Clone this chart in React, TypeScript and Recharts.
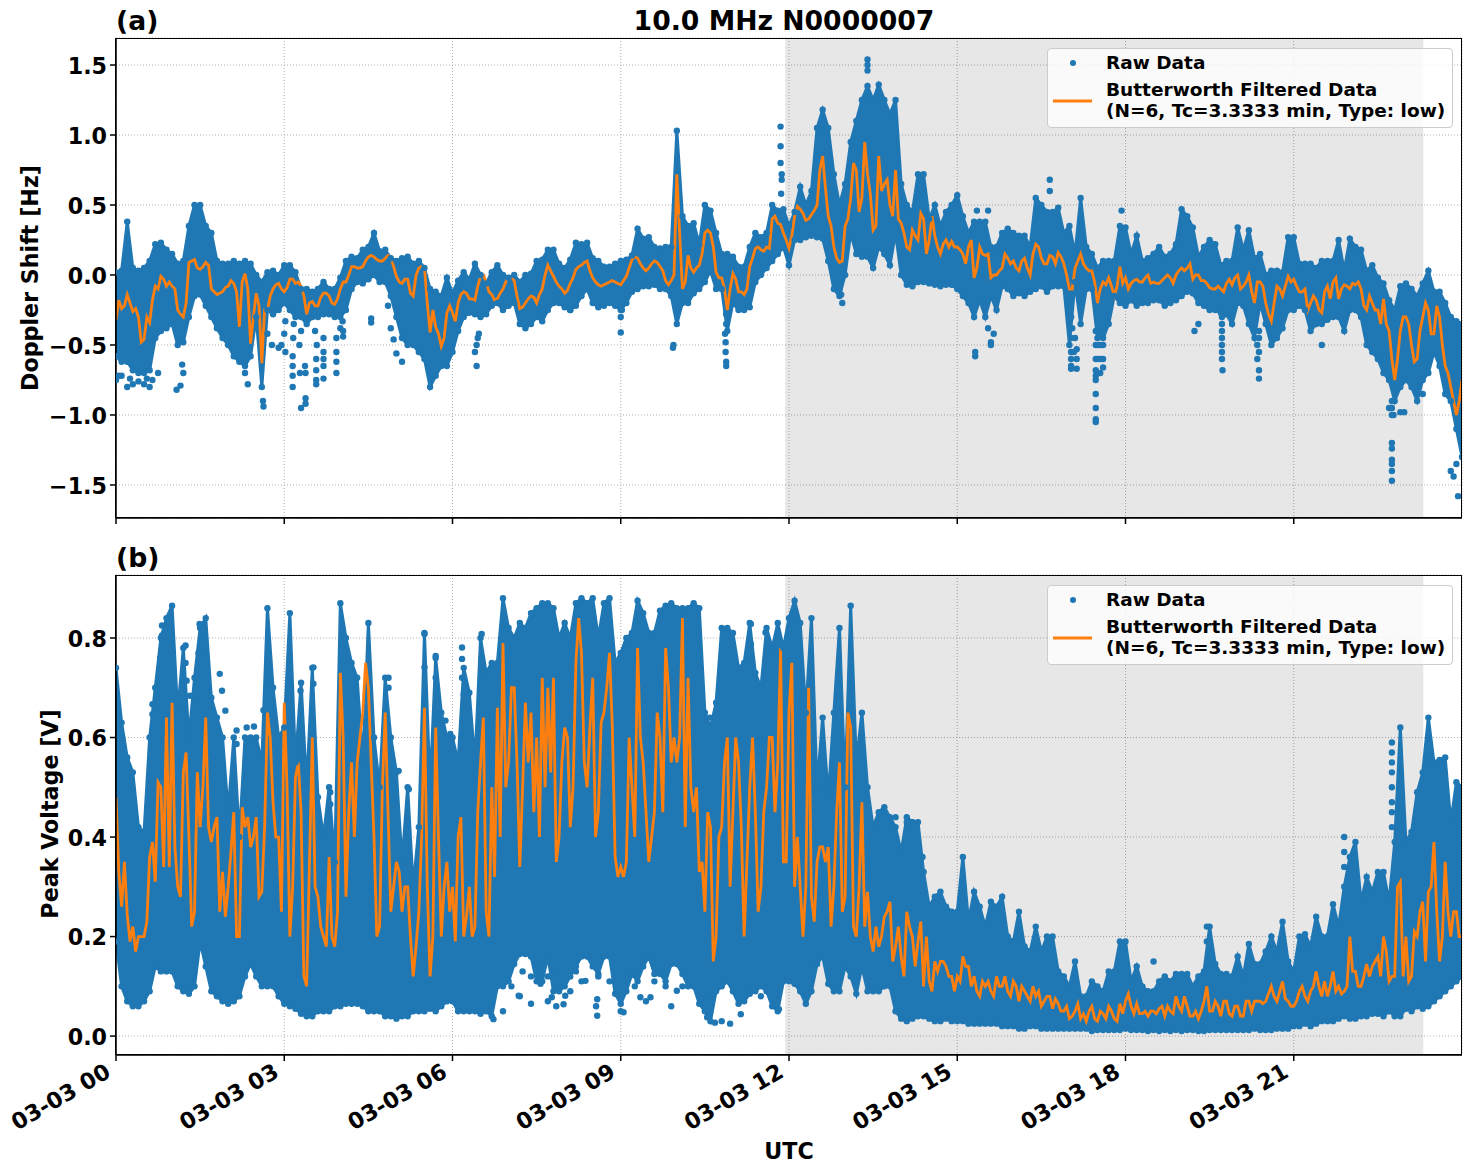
import React from "react";
import {
  Area,
  CartesianGrid,
  ComposedChart,
  Line,
  ReferenceArea,
  Scatter,
  XAxis,
  YAxis,
} from "recharts";

const dopplerHigh = [
  0.02, 0.03, 0.38, 0.05, 0.03, 0.05, 0.1, 0.22, 0.23, 0.18,
  0.15, 0.08, 0.1, 0.35, 0.5, 0.5, 0.35, 0.3, 0.1, 0.08,
  0.08, 0.1, 0.08, 0.1, 0.08, 0.0, -0.05, 0.02, 0.03, 0.0,
  0.07, 0.07, 0.02, -0.1, -0.1, -0.12, -0.1, -0.05, -0.1, -0.1,
  -0.02, 0.1, 0.13, 0.12, 0.18, 0.2, 0.3, 0.17, 0.18, 0.12,
  0.1, 0.12, 0.13, 0.08, 0.1, 0.05, -0.1, -0.12, -0.15, -0.02,
  -0.13, -0.04, 0.02, -0.03, 0.08, 0.0, -0.06, 0.02, 0.07, 0.0,
  -0.02, 0.0, -0.05, 0.0, 0.01, 0.1, 0.11, 0.18, 0.18, 0.08,
  0.05, 0.11, 0.23, 0.22, 0.23, 0.12, 0.1, 0.06, 0.06, 0.08,
  0.1, 0.11, 0.14, 0.33, 0.26, 0.27, 0.2, 0.19, 0.2, 0.2,
  1.03, 0.42, 0.35, 0.37, 0.22, 0.5, 0.46, 0.3, 0.15, 0.15,
  0.13, 0.06, 0.06, 0.2, 0.3, 0.27, 0.3, 0.5, 0.46, 0.47,
  0.35, 0.45, 0.63, 0.5, 0.6, 1.05, 1.18, 1.05, 0.72, 0.5,
  0.65, 0.95, 1.1, 1.25, 1.35, 1.25, 1.36, 1.25, 1.15, 1.25,
  0.65, 0.5, 0.45, 0.72, 0.72, 0.4, 0.5, 0.35, 0.45, 0.5,
  0.57, 0.42, 0.3, 0.38, 0.38, 0.38, 0.2, 0.2, 0.3, 0.33,
  0.3, 0.28, 0.28, 0.2, 0.55, 0.5, 0.45, 0.45, 0.48, 0.3,
  0.35, 0.15, 0.55, 0.2, 0.15, 0.05, 0.1, 0.1, 0.1, 0.35,
  0.34, 0.15, 0.28, 0.1, 0.12, 0.15, 0.2, 0.13, 0.15, 0.22,
  0.47, 0.42, 0.34, 0.13, 0.2, 0.25, 0.22, 0.07, 0.1, 0.1,
  0.34, 0.18, 0.32, 0.12, 0.15, 0.0, 0.03, 0.03, 0.02, 0.27,
  0.27, 0.08, 0.08, 0.08, 0.05, 0.1, 0.1, 0.1, 0.25, 0.03,
  0.26, 0.2, 0.18, 0.03, 0.07, -0.02, -0.06, -0.18, -0.25, -0.08,
  -0.06, -0.1, -0.15, -0.06, 0.03, -0.12, -0.12, -0.2, -0.3, -0.33, -0.35,
];

const dopplerLow = [
  -0.58, -0.62, -0.62, -0.68, -0.7, -0.7, -0.68, -0.45, -0.4, -0.38,
  -0.35, -0.5, -0.48, -0.3, -0.15, -0.14, -0.22, -0.3, -0.38, -0.45,
  -0.5, -0.58, -0.62, -0.65, -0.58, -0.3, -0.8, -0.25, -0.28, -0.25,
  -0.2, -0.25, -0.3, -0.3, -0.35, -0.3, -0.3, -0.28, -0.28, -0.3,
  -0.3, -0.25, -0.1, -0.05, -0.06, -0.03, 0.0, -0.05, -0.05, -0.15,
  -0.3, -0.45, -0.5, -0.5, -0.55, -0.6, -0.8, -0.72, -0.65, -0.65,
  -0.55, -0.4, -0.3, -0.27, -0.28, -0.3, -0.28, -0.22, -0.2, -0.25,
  -0.22, -0.2, -0.35, -0.38, -0.35, -0.3, -0.33, -0.25, -0.2, -0.2,
  -0.23, -0.25, -0.22, -0.15, -0.1, -0.2, -0.23, -0.22, -0.2, -0.22,
  -0.25, -0.2, -0.12, -0.1, -0.08, -0.08, -0.07, -0.1, -0.1, -0.15,
  -0.35, -0.2, -0.2, -0.13, -0.1, -0.05, 0.03, -0.1, -0.1, -0.4,
  -0.2, -0.25, -0.25, -0.23, -0.05, 0.0, 0.05, 0.1, 0.15, 0.2,
  0.07, 0.25, 0.25, 0.27, 0.28, 0.27, 0.26, 0.1, -0.1, -0.15,
  0.0, 0.3, 0.15, 0.13, 0.13, 0.05, 0.2, 0.15, 0.07, 0.3,
  0.0, -0.07, -0.08, -0.05, -0.05, -0.06, -0.07, -0.08, -0.07, -0.07,
  -0.1, -0.15, -0.2, -0.3, -0.18, -0.3, -0.15, -0.25, -0.08, -0.1,
  -0.15, -0.13, -0.15, -0.12, -0.1, -0.08, -0.12, -0.08, -0.08, -0.08,
  -0.5, -0.05, -0.35, -0.1, -0.1, -0.45, -0.45, -0.35, -0.15, -0.2,
  -0.22, -0.18, -0.22, -0.2, -0.2, -0.18, -0.18, -0.22, -0.2, -0.18,
  -0.15, -0.12, -0.13, -0.2, -0.22, -0.25, -0.25, -0.27, -0.28, -0.35,
  -0.2, -0.22, -0.35, -0.45, -0.2, -0.35, -0.5, -0.45, -0.38, -0.25,
  -0.25, -0.22, -0.25, -0.4, -0.35, -0.35, -0.32, -0.3, -0.3, -0.4,
  -0.25, -0.25, -0.3, -0.5, -0.55, -0.6, -0.7, -0.75, -0.9, -0.8,
  -0.75, -0.8, -0.9, -0.75, -0.7, -0.55, -0.65, -0.85, -0.9, -1.1, -1.3,
];

const dopplerFiltered = [
  -0.32, -0.24, -0.14, -0.26, -0.3, -0.46, -0.34, -0.08, -0.01, -0.08,
  -0.08, -0.25, -0.3, 0.09, 0.11, 0.04, 0.09, -0.1, -0.14, -0.12,
  -0.08, -0.06, -0.37, 0.01, -0.49, -0.13, -0.63, -0.25, -0.1, -0.06,
  -0.12, -0.03, -0.06, -0.08, -0.28, -0.19, -0.22, -0.13, -0.15, -0.21,
  -0.1, -0.05, 0.06, 0.05, 0.06, 0.13, 0.13, 0.1, 0.12, 0.13,
  -0.01, -0.06, -0.03, -0.15, 0.05, 0.05, -0.41, -0.37, -0.51, -0.27,
  -0.27, -0.2, -0.12, -0.17, -0.18, -0.01, -0.05, -0.14, -0.17, -0.1,
  -0.01, -0.04, -0.24, -0.2, -0.15, -0.2, -0.1, 0.07, -0.01, -0.08,
  -0.13, -0.06, 0.04, 0.07, 0.1, -0.02, -0.07, -0.07, -0.05, -0.05,
  -0.07, -0.01, 0.11, 0.12, 0.05, 0.05, 0.1, 0.06, -0.04, -0.04,
  0.72, -0.1, 0.14, 0.02, 0.07, 0.3, 0.3, 0.02, -0.02, -0.25,
  0.01, -0.12, -0.14, 0.06, 0.19, 0.18, 0.2, 0.4, 0.37, 0.3,
  0.19, 0.42, 0.47, 0.39, 0.43, 0.5, 0.85, 0.42, 0.2, 0.09,
  0.35, 0.55, 0.75, 0.55, 0.72, 0.32, 0.85, 0.65, 0.5, 0.75,
  0.37, 0.2, 0.32, 0.25, 0.4, 0.25, 0.28, 0.15, 0.25, 0.24,
  0.2, 0.15, 0.2, -0.02, 0.2, 0.14, -0.02, 0.0, 0.05, 0.12,
  0.1, 0.03, 0.12, 0.0, 0.22, 0.12, 0.08, 0.13, 0.16, 0.08,
  -0.1, 0.05, 0.15, 0.05, 0.03, -0.2, -0.05, -0.02, -0.15, 0.06,
  -0.02, -0.06, -0.03, -0.05, 0.0, -0.05, -0.06, -0.02, -0.02, 0.0,
  0.05, 0.05, -0.03, 0.0, -0.04, -0.09, -0.1, -0.1, -0.06, -0.07,
  0.0, -0.08, 0.0, -0.2, -0.05, -0.2, -0.33, -0.08, -0.15, -0.01,
  -0.03, -0.12, -0.1, -0.2, -0.18, -0.27, -0.08, -0.05, -0.17, -0.07,
  -0.1, -0.07, -0.1, -0.25, -0.2, -0.25, -0.17, -0.4, -0.75, -0.4,
  -0.3, -0.5, -0.6, -0.3, -0.25, -0.42, -0.3, -0.65, -0.8, -1.0, -0.75,
];

// the filtered line three minutes after each value above
const dopplerFilteredBetween = [
  -0.18, -0.22, -0.2, -0.24, -0.48, -0.3, -0.18, -0.1, -0.03, -0.05,
  -0.1, -0.28, -0.2, 0.1, 0.05, 0.06, 0.07, -0.12, -0.13, -0.09,
  -0.04, -0.12, -0.05, -0.1, -0.3, -0.22, -0.25, -0.15, -0.07, -0.1,
  -0.09, -0.03, -0.05, -0.15, -0.2, -0.22, -0.16, -0.13, -0.2, -0.17,
  -0.05, 0.0, 0.06, 0.05, 0.1, 0.14, 0.11, 0.1, 0.14, 0.06,
  -0.05, -0.03, -0.13, 0.0, 0.06, -0.2, -0.25, -0.42, -0.45, -0.22,
  -0.33, -0.14, -0.13, -0.17, -0.08, 0.0, -0.12, -0.18, -0.13, -0.05,
  -0.02, -0.15, -0.23, -0.17, -0.16, -0.14, 0.0, 0.03, -0.05, -0.1,
  -0.11, -0.02, 0.06, 0.09, 0.03, -0.05, -0.08, -0.06, -0.04, -0.06,
  -0.04, 0.05, 0.13, 0.08, 0.03, 0.08, 0.09, 0.03, -0.07, 0.0,
  0.3, -0.05, 0.05, 0.05, 0.15, 0.32, 0.2, -0.02, -0.1, -0.1,
  -0.03, -0.12, -0.1, 0.12, 0.2, 0.17, 0.19, 0.42, 0.36, 0.25,
  0.28, 0.49, 0.44, 0.4, 0.46, 0.75, 0.62, 0.35, 0.12, 0.1,
  0.4, 0.8, 0.45, 0.95, 0.58, 0.35, 0.6, 0.68, 0.42, 0.4,
  0.3, 0.18, 0.28, 0.44, 0.15, 0.42, 0.2, 0.22, 0.2, 0.2,
  0.18, 0.08, 0.25, 0.05, 0.15, 0.15, 0.0, 0.03, 0.15, 0.08,
  0.05, 0.1, 0.05, 0.15, 0.2, 0.08, 0.14, 0.08, 0.13, 0.0,
  -0.1, 0.1, 0.08, 0.03, -0.05, -0.1, -0.07, -0.08, -0.08, -0.06,
  -0.1, -0.04, -0.05, -0.02, -0.06, -0.06, -0.04, 0.0, -0.06, 0.03,
  0.03, 0.08, 0.0, -0.04, -0.06, -0.1, -0.08, -0.12, -0.03, -0.02,
  -0.1, -0.05, -0.12, -0.05, -0.08, -0.28, -0.2, -0.1, -0.08, -0.05,
  -0.08, -0.12, -0.25, -0.15, -0.25, -0.12, -0.17, -0.02, -0.1, -0.08,
  -0.06, -0.05, -0.22, -0.15, -0.25, -0.35, -0.35, -0.6, -0.6, -0.3,
  -0.35, -0.62, -0.4, -0.2, -0.42, -0.22, -0.5, -0.7, -0.9, -0.9,
];

const dopplerStrayTimes = [
  0, 0.05, 0.2, 0.3, 0.6, 0.65, 1.08, 1.15, 1.2, 1.18, 2.35, 2.3, 2.62, 2.63,
  2.78, 2.7, 2.9, 2.95, 3.02, 3.0, 3.02, 3.15, 3.15, 3.15, 3.15, 3.16, 3.17,
  3.3, 3.28, 3.27, 3.3, 3.38, 3.38, 3.37, 3.38, 3.57, 3.57, 3.57, 3.57, 3.58, 3.55,
  3.7, 3.7, 3.7, 3.7, 3.7, 3.93, 3.93, 3.93, 3.93, 4.0, 4.05, 4.05, 4.04,
  4.55, 4.55, 4.85, 4.9, 4.95, 5.0, 5.1, 6.43, 6.4, 6.45, 6.47, 6.43, 8.1, 9.0, 9.0, 9.02,
  9.93, 9.94, 10.88, 10.88, 10.87, 10.87, 10.86,
  11.85, 11.85, 11.85, 11.87, 11.87, 11.86, 12.93, 12.9, 12.95,
  13.4, 13.4, 13.4, 15.32, 15.32, 15.55, 15.6, 15.6, 15.65, 15.35, 15.55, 16.65, 16.65,
  17.03, 17.03, 17.03, 17.03, 17.13, 17.13, 17.13, 17.47, 17.47, 17.47, 17.47, 17.47,
  17.6, 17.6, 17.55, 17.55, 17.93, 19.72, 19.72, 19.73, 19.72, 19.23, 19.3,
  20.38, 20.38, 20.35, 20.35, 21.5, 22.75, 22.75, 22.75, 22.75, 22.75, 22.75, 22.75,
  22.97, 22.9, 23.93, 23.8, 23.85, 23.9, 23.4,
  0.1, 0.25, 0.4, 0.5, 0.55, 0.75, 17.03, 17.05, 17.03, 17.47, 17.47, 17.47, 17.47, 17.47,
  17.6, 17.6, 17.55, 22.75, 22.75, 22.7, 19.72, 19.72, 19.72, 19.72, 20.38, 20.38, 20.38,
  10.88, 10.88, 17.08, 17.1, 17.5, 17.52, 22.72, 22.78, 23.2, 23.3,
];

const dopplerStrayValues = [
  -0.75, -0.72, -0.8, -0.78, -0.8, -0.75, -0.82, -0.79, -0.7, -0.64, -0.78, -0.7, -0.9, -0.94,
  -0.5, -0.42, -0.52, -0.5, -0.55, -0.42, -0.33, -0.65, -0.72, -0.8, -0.58, -0.45, -0.35,
  -0.95, -0.7, -0.5, -0.4, -0.92, -0.88, -0.65, -0.7, -0.6, -0.68, -0.75, -0.78, -0.5, -0.4,
  -0.55, -0.6, -0.65, -0.74, -0.45, -0.55, -0.62, -0.7, -0.45, -0.38, -0.4, -0.44, -0.33,
  -0.31, -0.34, -0.22, -0.38, -0.46, -0.56, -0.62, -0.5, -0.55, -0.45, -0.42, -0.65, -0.25, -0.41, -0.3, -0.25,
  -0.52, -0.5, -0.65, -0.62, -0.55, -0.48, -0.42,
  1.06, 0.92, 0.8, 0.72, 0.68, 0.58, -0.14, -0.1, -0.2,
  1.54, 1.5, 1.46, -0.55, -0.58, -0.38, -0.48, -0.5, -0.42, 0.46, 0.46, 0.68, 0.6,
  -0.55, -0.6, -0.67, -0.65, -0.53, -0.6, -0.67, -0.75, -0.85, -0.95, -1.05, -1.03,
  -0.6, -0.66, -0.7, -0.6, 0.46, -0.55, -0.6, -0.68, -0.45, -0.4, -0.35,
  -0.68, -0.74, -0.6, -0.5, -0.5, -1.0, -1.2, -1.24, -1.32, -1.35, -1.4, -1.47,
  -0.98, -0.98, -1.58, -1.4, -1.44, -1.35, -0.6,
  -0.72, -0.74, -0.76, -0.78, -0.74, -0.7, -0.45, -0.38, -0.3, -0.4, -0.5, -0.6, -0.68, -0.72,
  -0.5, -0.42, -0.5, -0.9, -0.95, -0.95, -0.3, -0.35, -0.4, -0.5, -0.45, -0.55, -0.4,
  -0.35, -0.28, -0.55, -0.45, -0.6, -0.5, -0.95, -1.0, -0.82, -0.85,
];

const voltageHigh = [
  0.74, 0.63, 0.56, 0.53, 0.42, 0.41, 0.6, 0.7, 0.8, 0.84,
  0.865, 0.65, 0.78, 0.6, 0.72, 0.82, 0.84, 0.68, 0.64, 0.6,
  0.45, 0.6, 0.4, 0.6, 0.6, 0.6, 0.55, 0.86, 0.7, 0.6,
  0.62, 0.85, 0.55, 0.71, 0.5, 0.74, 0.48, 0.4, 0.5, 0.35,
  0.87, 0.8, 0.75, 0.72, 0.55, 0.83, 0.6, 0.5, 0.72, 0.6,
  0.53, 0.35, 0.5, 0.3, 0.42, 0.81, 0.5, 0.76, 0.65, 0.6,
  0.6, 0.55, 0.74, 0.69, 0.55, 0.8, 0.73, 0.75, 0.75, 0.88,
  0.82, 0.8, 0.83, 0.82, 0.85, 0.86, 0.87, 0.87, 0.86, 0.8,
  0.83, 0.8, 0.87, 0.88, 0.87, 0.88, 0.8, 0.87, 0.88, 0.75,
  0.77, 0.8, 0.81, 0.875, 0.85, 0.81, 0.81, 0.855, 0.865, 0.87,
  0.86, 0.86, 0.86, 0.87, 0.86, 0.65, 0.62, 0.67, 0.82, 0.82,
  0.81, 0.74, 0.75, 0.83, 0.73, 0.7, 0.82, 0.78, 0.83, 0.78,
  0.84, 0.875, 0.83, 0.65, 0.84, 0.5, 0.64, 0.48, 0.65, 0.82,
  0.5, 0.865, 0.55, 0.65, 0.5, 0.42, 0.45, 0.46, 0.44, 0.42,
  0.37, 0.44, 0.43, 0.43, 0.33, 0.26, 0.28, 0.29, 0.26, 0.25,
  0.25, 0.36, 0.23, 0.29, 0.26, 0.22, 0.27, 0.26, 0.28, 0.2,
  0.19, 0.25, 0.18, 0.17, 0.22, 0.17, 0.2, 0.2, 0.13, 0.12,
  0.1, 0.15, 0.08, 0.08, 0.11, 0.1, 0.09, 0.13, 0.13, 0.19,
  0.19, 0.11, 0.14, 0.1, 0.09, 0.09, 0.11, 0.12, 0.11, 0.125,
  0.125, 0.125, 0.1, 0.12, 0.13, 0.22, 0.145, 0.125, 0.125, 0.12,
  0.16, 0.12, 0.185, 0.145, 0.145, 0.17, 0.2, 0.17, 0.23, 0.15,
  0.13, 0.2, 0.205, 0.18, 0.24, 0.2, 0.2, 0.265, 0.22, 0.3,
  0.36, 0.39, 0.27, 0.32, 0.29, 0.33, 0.33, 0.27, 0.39, 0.62,
  0.39, 0.41, 0.49, 0.53, 0.64, 0.55, 0.555, 0.56, 0.43, 0.51, 0.5,
];

const voltageLow = [
  0.19, 0.1, 0.07, 0.06, 0.06, 0.07, 0.09, 0.14, 0.13, 0.13,
  0.13, 0.1, 0.09, 0.085, 0.1, 0.19, 0.14, 0.09, 0.08, 0.07,
  0.065, 0.07, 0.08, 0.12, 0.145, 0.12, 0.1, 0.1, 0.1, 0.08,
  0.065, 0.06, 0.055, 0.045, 0.04, 0.04, 0.05, 0.05, 0.05, 0.06,
  0.06, 0.065, 0.065, 0.065, 0.06, 0.05, 0.05, 0.05, 0.04, 0.04,
  0.035, 0.04, 0.04, 0.05, 0.05, 0.05, 0.055, 0.05, 0.06, 0.07,
  0.07, 0.05, 0.05, 0.05, 0.05, 0.045, 0.05, 0.04, 0.1, 0.1,
  0.11, 0.145, 0.165, 0.165, 0.16, 0.11, 0.11, 0.16, 0.09, 0.09,
  0.1, 0.12, 0.14, 0.16, 0.16, 0.14, 0.125, 0.16, 0.16, 0.085,
  0.065, 0.09, 0.125, 0.11, 0.14, 0.16, 0.125, 0.125, 0.11, 0.145,
  0.145, 0.125, 0.1, 0.1, 0.065, 0.05, 0.03, 0.09, 0.1, 0.11,
  0.09, 0.065, 0.07, 0.085, 0.09, 0.1, 0.09, 0.06, 0.05, 0.11,
  0.11, 0.105, 0.09, 0.065, 0.09, 0.145, 0.16, 0.105, 0.09, 0.09,
  0.14, 0.12, 0.085, 0.14, 0.09, 0.09, 0.09, 0.1, 0.1, 0.05,
  0.035, 0.03, 0.035, 0.04, 0.04, 0.035, 0.03, 0.03, 0.035, 0.03,
  0.03, 0.03, 0.025, 0.025, 0.025, 0.025, 0.025, 0.025, 0.02, 0.02,
  0.02, 0.015, 0.015, 0.02, 0.02, 0.015, 0.015, 0.015, 0.015, 0.015,
  0.015, 0.015, 0.015, 0.015, 0.01, 0.012, 0.012, 0.012, 0.012, 0.012,
  0.015, 0.012, 0.012, 0.012, 0.01, 0.012, 0.01, 0.012, 0.01, 0.012,
  0.01, 0.012, 0.012, 0.01, 0.01, 0.012, 0.012, 0.012, 0.012, 0.012,
  0.012, 0.012, 0.012, 0.015, 0.012, 0.012, 0.012, 0.015, 0.015, 0.015,
  0.02, 0.02, 0.025, 0.02, 0.025, 0.03, 0.03, 0.03, 0.035, 0.04,
  0.035, 0.035, 0.04, 0.04, 0.045, 0.045, 0.04, 0.05, 0.04, 0.04,
  0.055, 0.05, 0.06, 0.055, 0.06, 0.07, 0.08, 0.09, 0.1, 0.11, 0.12,
];

const voltageFiltered = [
  0.48, 0.26, 0.245, 0.22, 0.2, 0.2, 0.36, 0.31, 0.5, 0.64,
  0.67, 0.3, 0.53, 0.4, 0.25, 0.42, 0.64, 0.39, 0.44, 0.33,
  0.3, 0.45, 0.2, 0.42, 0.38, 0.44, 0.29, 0.65, 0.47, 0.4,
  0.67, 0.2, 0.52, 0.45, 0.1, 0.6, 0.28, 0.2, 0.36, 0.18,
  0.73, 0.28, 0.55, 0.55, 0.65, 0.7, 0.4, 0.22, 0.65, 0.25,
  0.35, 0.25, 0.3, 0.12, 0.25, 0.66, 0.12, 0.62, 0.2, 0.35,
  0.3, 0.4, 0.2, 0.3, 0.22, 0.55, 0.25, 0.5, 0.66, 0.79,
  0.55, 0.7, 0.34, 0.67, 0.65, 0.6, 0.72, 0.7, 0.72, 0.4,
  0.62, 0.42, 0.75, 0.77, 0.5, 0.72, 0.45, 0.65, 0.77, 0.36,
  0.34, 0.35, 0.5, 0.78, 0.55, 0.35, 0.45, 0.6, 0.78, 0.55,
  0.55, 0.84, 0.72, 0.45, 0.33, 0.25, 0.42, 0.2, 0.42, 0.6,
  0.45, 0.55, 0.2, 0.5, 0.45, 0.3, 0.5, 0.6, 0.55, 0.35,
  0.65, 0.3, 0.3, 0.3, 0.28, 0.35, 0.38, 0.38, 0.3, 0.55,
  0.28, 0.62, 0.2, 0.47, 0.29, 0.17, 0.18, 0.24, 0.27, 0.18,
  0.16, 0.25, 0.2, 0.19, 0.1, 0.11, 0.15, 0.15, 0.14, 0.12,
  0.12, 0.16, 0.14, 0.12, 0.08, 0.1, 0.09, 0.12, 0.1, 0.09,
  0.11, 0.07, 0.09, 0.07, 0.08, 0.06, 0.08, 0.055, 0.065, 0.05,
  0.035, 0.05, 0.035, 0.03, 0.06, 0.03, 0.045, 0.06, 0.035, 0.065,
  0.07, 0.06, 0.065, 0.045, 0.04, 0.05, 0.055, 0.04, 0.05, 0.08,
  0.05, 0.06, 0.04, 0.035, 0.07, 0.05, 0.07, 0.04, 0.07, 0.04,
  0.06, 0.04, 0.07, 0.07, 0.07, 0.07, 0.1, 0.07, 0.11, 0.07,
  0.06, 0.09, 0.08, 0.09, 0.13, 0.08, 0.08, 0.13, 0.1, 0.09,
  0.2, 0.13, 0.1, 0.145, 0.14, 0.16, 0.2, 0.11, 0.12, 0.31,
  0.2, 0.12, 0.2, 0.27, 0.29, 0.39, 0.15, 0.35, 0.2, 0.25, 0.2,
];

const voltageFilteredBetween = [
  0.33, 0.35, 0.19, 0.17, 0.2, 0.23, 0.39, 0.51, 0.34, 0.34,
  0.38, 0.28, 0.57, 0.22, 0.53, 0.5, 0.42, 0.42, 0.25, 0.24,
  0.37, 0.2, 0.46, 0.44, 0.4, 0.28, 0.42, 0.6, 0.4, 0.25,
  0.5, 0.3, 0.55, 0.12, 0.35, 0.3, 0.22, 0.18, 0.2, 0.25,
  0.6, 0.45, 0.4, 0.6, 0.75, 0.55, 0.2, 0.5, 0.45, 0.3,
  0.33, 0.3, 0.2, 0.18, 0.4, 0.3, 0.2, 0.4, 0.3, 0.25,
  0.19, 0.44, 0.24, 0.2, 0.45, 0.64, 0.2, 0.32, 0.4, 0.5,
  0.7, 0.55, 0.5, 0.55, 0.45, 0.4, 0.5, 0.53, 0.35, 0.55,
  0.6, 0.5, 0.84, 0.55, 0.62, 0.4, 0.63, 0.7, 0.62, 0.32,
  0.32, 0.6, 0.4, 0.6, 0.45, 0.4, 0.65, 0.45, 0.7, 0.6,
  0.6, 0.42, 0.5, 0.5, 0.35, 0.45, 0.15, 0.4, 0.55, 0.3,
  0.6, 0.42, 0.35, 0.6, 0.25, 0.45, 0.6, 0.45, 0.78, 0.35,
  0.75, 0.4, 0.2, 0.7, 0.23, 0.38, 0.35, 0.22, 0.45, 0.25,
  0.65, 0.22, 0.3, 0.22, 0.2, 0.22, 0.2, 0.25, 0.15, 0.22,
  0.12, 0.22, 0.14, 0.23, 0.2, 0.09, 0.13, 0.15, 0.12, 0.09,
  0.11, 0.14, 0.1, 0.09, 0.11, 0.11, 0.08, 0.1, 0.12, 0.08,
  0.1, 0.1, 0.08, 0.1, 0.09, 0.07, 0.08, 0.075, 0.05, 0.06,
  0.04, 0.065, 0.045, 0.05, 0.035, 0.05, 0.035, 0.05, 0.03, 0.045,
  0.085, 0.045, 0.045, 0.05, 0.05, 0.045, 0.06, 0.06, 0.045, 0.06,
  0.08, 0.04, 0.05, 0.05, 0.1, 0.05, 0.06, 0.07, 0.045, 0.06,
  0.04, 0.07, 0.05, 0.07, 0.065, 0.085, 0.08, 0.09, 0.075, 0.06,
  0.07, 0.1, 0.07, 0.1, 0.1, 0.11, 0.1, 0.09, 0.085, 0.1,
  0.13, 0.1, 0.12, 0.12, 0.15, 0.12, 0.17, 0.12, 0.3, 0.12,
  0.11, 0.21, 0.25, 0.15, 0.3, 0.25, 0.2, 0.25, 0.25, 0.2,
];

const voltageStrayTimes = [
  6.5, 6.7, 6.9, 7.05, 7.2, 7.4, 7.7, 7.85, 8.1, 8.3, 8.56, 9.0, 9.45, 9.9,
  10.3, 10.5, 10.8, 10.95, 11.35, 11.5, 22.75, 22.75, 22.75, 22.75, 22.75, 22.75,
  22.75, 22.75, 21.9, 21.9, 21.9, 14.38, 14.1, 14.2, 13.9, 18.5, 19.45, 19.45,
  0.65, 0.65, 0.67, 0.82, 0.82, 0.79, 1.24, 1.24, 1.26, 1.32, 1.49, 1.47, 1.85, 1.89,
  1.95, 2.15, 2.15, 2.33, 2.46, 2.63, 3.29, 3.52, 3.52, 3.82, 3.82, 4.86, 4.86, 5.04,
  5.22, 5.5, 5.5, 5.7, 5.7, 5.875, 5.96, 6.17, 6.17, 6.17, 6.2, 6.52, 6.52, 11.32,
  11.32, 11.58, 10.59, 6.73, 7.18, 7.57, 7.77, 7.98, 8.01, 8.37, 8.58, 8.58, 9.05, 9.35,
  9.53, 10.0, 10.54, 10.68, 11.14, 11.82, 7.25, 7.4, 7.55, 7.7, 7.9, 8.2, 8.6, 8.8,
  9.1, 9.25, 9.6, 9.8, 10.1,
];

const voltageStrayValues = [
  0.08, 0.06, 0.05, 0.1, 0.08, 0.065, 0.07, 0.06, 0.09, 0.11, 0.06, 0.05, 0.07, 0.06,
  0.1, 0.08, 0.03, 0.025, 0.1, 0.08, 0.59, 0.57, 0.55, 0.53, 0.5, 0.47,
  0.45, 0.42, 0.4, 0.37, 0.34, 0.36, 0.43, 0.43, 0.44, 0.15, 0.22, 0.19,
  0.667, 0.647, 0.62, 0.825, 0.805, 0.76, 0.785, 0.75, 0.714, 0.684, 0.828, 0.77, 0.728, 0.694,
  0.654, 0.614, 0.587, 0.62, 0.622, 0.655, 0.694, 0.741, 0.708, 0.49, 0.466, 0.72, 0.7, 0.533,
  0.496, 0.808, 0.741, 0.764, 0.72, 0.634, 0.607, 0.781, 0.758, 0.72, 0.687, 0.808, 0.76, 0.828,
  0.788, 0.811, 0.64, 0.034, 0.081, 0.105, 0.078, 0.064, 0.081, 0.111, 0.041, 0.074, 0.048, 0.078,
  0.078, 0.091, 0.038, 0.027, 0.044, 0.054, 0.13, 0.12, 0.14, 0.12, 0.13, 0.13, 0.12, 0.11,
  0.12, 0.1, 0.11, 0.1, 0.1,
];

const hourTicks = [0, 3, 6, 9, 12, 15, 18, 21];
const hourLabels = ["03-03 00", "03-03 03", "03-03 06", "03-03 09", "03-03 12", "03-03 15", "03-03 18", "03-03 21"];
const dopplerTicks = [-1.5, -1.0, -0.5, 0.0, 0.5, 1.0, 1.5];
const voltageTicks = [0.0, 0.2, 0.4, 0.6, 0.8];

const FONT = "'DejaVu Sans', sans-serif";
const BLUE = "#1f77b4";
const ORANGE = "#ff7f0e";

function buildRows(high: number[], low: number[]) {
  return high.map((h, i) => ({ t: i / 10, band: [low[i], h] }));
}

function buildFiltered(main: number[], between: number[]) {
  const pts: { t: number; filtered: number }[] = [];
  main.forEach((filtered, i) => {
    pts.push({ t: i / 10, filtered });
    if (i < between.length) pts.push({ t: i / 10 + 0.05, filtered: between[i] });
  });
  return pts;
}

function buildRaw(high: number[], low: number[], strayT: number[], strayV: number[]) {
  const pts: { t: number; v: number }[] = [];
  high.forEach((v, i) => pts.push({ t: i / 10, v }));
  low.forEach((v, i) => pts.push({ t: i / 10, v }));
  strayT.forEach((t, i) => pts.push({ t, v: strayV[i] }));
  return pts;
}

const Dot = (p: any) => <circle cx={p.cx} cy={p.cy} r={3.2} fill={BLUE} />;

const DateTick = (p: any) => {
  const label = hourLabels[hourTicks.indexOf(p.payload.value)];
  return (
    <text
      x={p.x - 4}
      y={p.y + 13}
      transform={`rotate(-30 ${p.x - 4} ${p.y + 13})`}
      textAnchor="end"
      fontFamily={FONT}
      fontWeight="bold"
      fontSize={22.2}
      fill="#000"
    >
      {label}
    </text>
  );
};

const NoTick = () => <g />;

function Panel(props: {
  top: number;
  height: number;
  axisHeight: number;
  rows: any[];
  line: any[];
  raw: any[];
  domain: number[];
  ticks: number[];
  showDates: boolean;
}) {
  const { top, height, axisHeight, rows, line, raw, domain, ticks, showDates } = props;
  return (
    <div style={{ position: "absolute", left: 0, top }}>
      <ComposedChart
        width={1472}
        height={height}
        data={rows}
        margin={{ top: 38, right: 10, bottom: 0, left: 0 }}
      >
        <CartesianGrid stroke="#b0b0b0" strokeWidth={1} strokeDasharray="1 2" />
        <ReferenceArea x1={11.93} x2={23.31} fill="#000" fillOpacity={0.095} stroke="none" />
        <XAxis
          dataKey="t"
          type="number"
          domain={[0, 24]}
          ticks={hourTicks}
          allowDataOverflow
          height={axisHeight}
          tick={showDates ? DateTick : NoTick}
          tickSize={6}
          interval={0}
          stroke="#000"
          strokeWidth={1.5}
        />
        <YAxis
          dataKey="v"
          type="number"
          domain={domain}
          ticks={ticks}
          allowDataOverflow
          width={116}
          interval={0}
          tickSize={6}
          tickMargin={3}
          stroke="#000"
          strokeWidth={1.5}
          tickFormatter={(v: number) => v.toFixed(1).replace("-", "\u2212")}
          tick={{ fontFamily: FONT, fontWeight: "bold", fontSize: 22.2, fill: "#000", dy: 1 }}
        />
        <Area
          dataKey="band"
          type="linear"
          stroke={BLUE}
          strokeWidth={3}
          fill={BLUE}
          fillOpacity={1}
          dot={false}
          activeDot={false}
          isAnimationActive={false}
        />
        <Scatter data={raw} dataKey="v" shape={Dot} isAnimationActive={false} />
        <Line
          data={line}
          dataKey="filtered"
          type="linear"
          stroke={ORANGE}
          strokeWidth={2.8}
          dot={false}
          activeDot={false}
          isAnimationActive={false}
        />
      </ComposedChart>
    </div>
  );
}

function LegendBox({ top }: { top: number }) {
  return (
    <div
      style={{
        position: "absolute",
        left: 1047,
        top,
        width: 406,
        height: 80,
        boxSizing: "border-box",
        background: "rgba(255,255,255,0.8)",
        border: "1px solid #ccc",
        borderRadius: 4,
      }}
    >
      <svg width={404} height={78} style={{ position: "absolute", left: 0, top: 0 }}>
        <circle cx={25} cy={14} r={3} fill={BLUE} />
        <line x1={5} x2={44} y1={52} y2={52} stroke={ORANGE} strokeWidth={2.8} />
        <g fontFamily={FONT} fontWeight="bold" fontSize={18.5} fill="#000">
          <text x={58} y={20}>Raw Data</text>
          <text x={58} y={47}>Butterworth Filtered Data</text>
          <text x={58} y={68}>(N=6, Tc=3.3333 min, Type: low)</text>
        </g>
      </svg>
    </div>
  );
}

const labelBase: React.CSSProperties = {
  position: "absolute",
  fontFamily: FONT,
  fontWeight: "bold",
  color: "#000",
  whiteSpace: "nowrap",
  lineHeight: 1,
};

function Frame({ top }: { top: number }) {
  return (
    <div
      style={{
        position: "absolute",
        left: 115,
        top,
        width: 1347,
        height: 480,
        boxSizing: "border-box",
        border: "1.5px solid #000",
        pointerEvents: "none",
      }}
    />
  );
}

function VerticalLabel({ text, x, y }: { text: string; x: number; y: number }) {
  return (
    <div
      style={{
        ...labelBase,
        left: x,
        top: y,
        fontSize: 22.2,
        transform: "translate(-50%, -50%) rotate(-90deg)",
      }}
    >
      {text}
    </div>
  );
}

export default function App() {
  return (
    <div style={{ position: "absolute", left: 0, top: 0, width: 1472, height: 1172, background: "#fff", overflow: "hidden" }}>
      <Panel
        top={0}
        height={540}
        axisHeight={22}
        rows={buildRows(dopplerHigh, dopplerLow)}
        line={buildFiltered(dopplerFiltered, dopplerFilteredBetween)}
        raw={buildRaw(dopplerHigh, dopplerLow, dopplerStrayTimes, dopplerStrayValues)}
        domain={[-1.736, 1.693]}
        ticks={dopplerTicks}
        showDates={false}
      />
      <Panel
        top={537}
        height={635}
        axisHeight={117}
        rows={buildRows(voltageHigh, voltageLow)}
        line={buildFiltered(voltageFiltered, voltageFilteredBetween)}
        raw={buildRaw(voltageHigh, voltageLow, voltageStrayTimes, voltageStrayValues)}
        domain={[-0.038, 0.9266]}
        ticks={voltageTicks}
        showDates
      />
      <Frame top={38} />
      <Frame top={575} />
      <LegendBox top={48} />
      <LegendBox top={585} />
      <div style={{ ...labelBase, left: 116, top: 8, fontSize: 26.67 }}>(a)</div>
      <div style={{ ...labelBase, left: 116, top: 545, fontSize: 26.67 }}>(b)</div>
      <div style={{ ...labelBase, left: 784, top: 8, fontSize: 26.67, transform: "translateX(-50%)" }}>10.0 MHz N0000007</div>
      <VerticalLabel text="Doppler Shift [Hz]" x={30} y={278} />
      <VerticalLabel text="Peak Voltage [V]" x={50} y={814} />
      <div style={{ ...labelBase, left: 789, top: 1140, fontSize: 22.2, transform: "translateX(-50%)" }}>UTC</div>
    </div>
  );
}
